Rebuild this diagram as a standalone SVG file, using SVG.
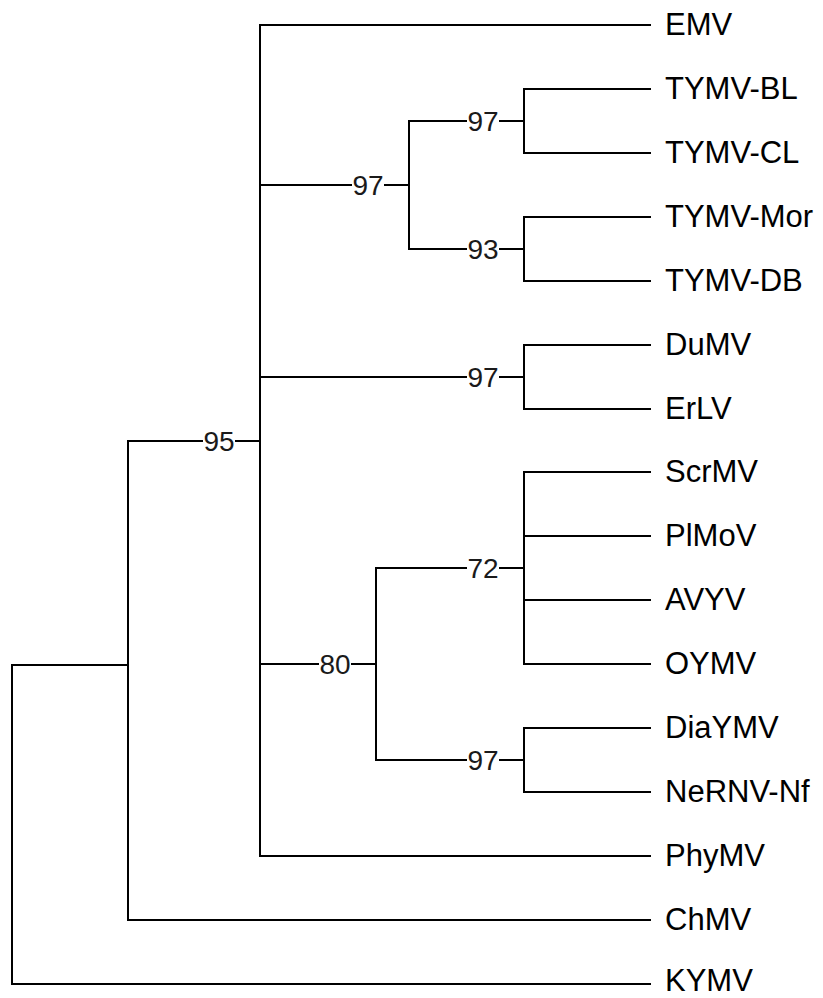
<svg xmlns="http://www.w3.org/2000/svg" width="823" height="998" viewBox="0 0 823 998">
  <style>
    .edge { stroke: #000; stroke-width: 2; fill: none; stroke-linecap: square; }
    .leaf { font-family: "Liberation Sans", Arial, sans-serif; font-size: 31px; fill: #000; }
    .boot { font-family: "Liberation Sans", Arial, sans-serif; font-size: 28px; fill: #1a1a1a; text-anchor: middle; }
    .bg { fill: #fff; }
  </style>
  <rect width="823" height="998" fill="#fff"/>

  <!-- branches: vertical spans at internal nodes, horizontal edges to children -->
  <g id="connectors">
    <!-- root -->
    <path class="edge" d="M12 665 V984 M12 665 H128 M12 984 H650"/>
    <!-- node at x=128 -->
    <path class="edge" d="M128 441 V920 M128 441 H260 M128 920 H650"/>
    <!-- node at x=260 -->
    <path class="edge" d="M260 25 V856 M260 25 H650 M260 185 H409 M260 377 H524 M260 664 H376 M260 856 H650"/>
    <!-- TYMV clade -->
    <path class="edge" d="M409 121 V249 M409 121 H524 M409 249 H524"/>
    <path class="edge" d="M524 89 V153 M524 89 H650 M524 153 H650"/>
    <path class="edge" d="M524 217 V281 M524 217 H650 M524 281 H650"/>
    <!-- DuMV / ErLV -->
    <path class="edge" d="M524 345 V409 M524 345 H650 M524 409 H650"/>
    <!-- node at x=376 -->
    <path class="edge" d="M376 568 V760 M376 568 H524 M376 760 H524"/>
    <path class="edge" d="M524 472 V664 M524 472 H650 M524 536 H650 M524 600 H650 M524 664 H650"/>
    <path class="edge" d="M524 728 V792 M524 728 H650 M524 792 H650"/>
  </g>

  <!-- internal nodes with support values -->
  <g id="n95"><rect class="bg" x="203" y="429" width="32" height="24"/><text class="boot" x="219" y="451">95</text></g>
  <g id="n97-tymv"><rect class="bg" x="352" y="173" width="32" height="24"/><text class="boot" x="368" y="195">97</text></g>
  <g id="n97-bl-cl"><rect class="bg" x="467" y="109" width="32" height="24"/><text class="boot" x="483" y="131">97</text></g>
  <g id="n93"><rect class="bg" x="467" y="237" width="32" height="24"/><text class="boot" x="483" y="259">93</text></g>
  <g id="n97-dumv-erlv"><rect class="bg" x="467" y="365" width="32" height="24"/><text class="boot" x="483" y="387">97</text></g>
  <g id="n80"><rect class="bg" x="319" y="652" width="32" height="24"/><text class="boot" x="335" y="674">80</text></g>
  <g id="n72"><rect class="bg" x="467" y="556" width="32" height="24"/><text class="boot" x="483" y="578">72</text></g>
  <g id="n97-diaymv-nernv"><rect class="bg" x="467" y="748" width="32" height="24"/><text class="boot" x="483" y="770">97</text></g>

  <!-- leaves -->
  <g id="EMV"><text class="leaf" x="665" y="35">EMV</text></g>
  <g id="TYMV-BL"><text class="leaf" x="665" y="99">TYMV-BL</text></g>
  <g id="TYMV-CL"><text class="leaf" x="665" y="163">TYMV-CL</text></g>
  <g id="TYMV-Mor"><text class="leaf" x="665" y="227">TYMV-Mor</text></g>
  <g id="TYMV-DB"><text class="leaf" x="665" y="291">TYMV-DB</text></g>
  <g id="DuMV"><text class="leaf" x="665" y="355">DuMV</text></g>
  <g id="ErLV"><text class="leaf" x="665" y="419">ErLV</text></g>
  <g id="ScrMV"><text class="leaf" x="665" y="482">ScrMV</text></g>
  <g id="PlMoV"><text class="leaf" x="665" y="546">PlMoV</text></g>
  <g id="AVYV"><text class="leaf" x="665" y="610">AVYV</text></g>
  <g id="OYMV"><text class="leaf" x="665" y="674">OYMV</text></g>
  <g id="DiaYMV"><text class="leaf" x="665" y="738">DiaYMV</text></g>
  <g id="NeRNV-Nf"><text class="leaf" x="665" y="802">NeRNV-Nf</text></g>
  <g id="PhyMV"><text class="leaf" x="665" y="866">PhyMV</text></g>
  <g id="ChMV"><text class="leaf" x="665" y="930">ChMV</text></g>
  <g id="KYMV"><text class="leaf" x="665" y="991">KYMV</text></g>
</svg>
